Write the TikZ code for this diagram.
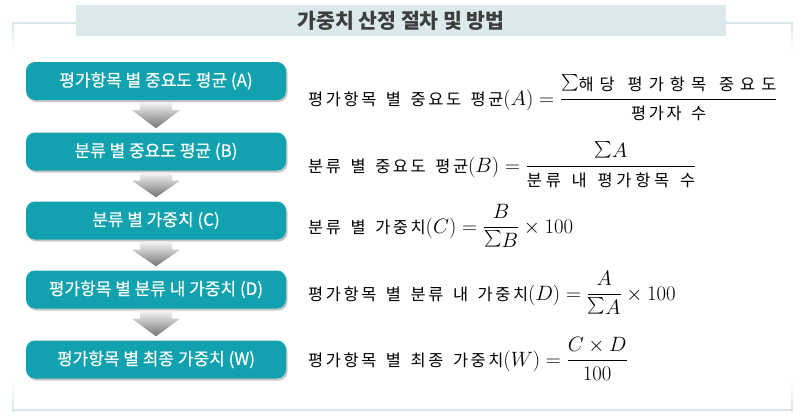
\documentclass[tikz,border=0pt]{standalone}
\usepackage{fontspec}
\usepackage{amsmath}
\usepackage{graphicx}
\usetikzlibrary{calc,shadows}
\newfontfamily\krsans{Noto Sans CJK KR}
\newfontfamily\krbox[FakeBold=0.4]{Noto Sans CJK KR}
\definecolor{tealbox}{RGB}{18,161,174}
\definecolor{frameC}{RGB}{214,231,235}
\definecolor{bannerC}{RGB}{221,234,237}
\definecolor{titleC}{RGB}{62,62,62}
\newlength\lsp \setlength\lsp{2.6pt}
\newlength\wgap \setlength\wgap{7pt}
\makeatletter
\def\kw@end{\kw@end}
\def\kw@loop#1{\ifx#1\kw@end\else\ifx#1/\hspace{\wgap}\else#1\hspace{\lsp}\fi\expandafter\kw@loop\fi}
\newcommand\kt[1]{\text{\fontsize{16.4}{19}\selectfont\krsans\kw@loop#1\kw@end\unskip}}
\makeatother
\newcommand\ssum{\mathord{\raisebox{0.2em}{\scalebox{0.8}{$\textstyle\sum$}}}}
\newcommand\flowarrow[2]{%
  \shade[top color=black!4, bottom color=black!55]
    ($(#1.south)+(-16,2)$) -- ($(#1.south)+(16,2)$) -- ($(#1.south)+(16,10)$)
    -- ($(#1.south)+(24,10)$) -- ($(#2.north)+(0,-4)$) -- ($(#1.south)+(-24,10)$)
    -- ($(#1.south)+(-16,10)$) -- cycle;}
\tikzset{
  stepbox/.style={fill=tealbox, rounded corners=9pt, minimum width=260pt,
    minimum height=38pt, inner sep=0pt, text=white,
    font=\krbox\fontsize{17}{20}\selectfont,
    drop shadow={shadow xshift=1.5pt, shadow yshift=-2pt, fill=black, opacity=0.22}},
  formula/.style={anchor=base west, inner sep=0pt, font=\fontsize{19.5}{24}\selectfont},
  frameline/.style={draw=frameC, line width=2pt},
}
\begin{document}
\begin{tikzpicture}[x=1pt, y=-1pt]
\useasboundingbox (0,0) rectangle (803,418);
% frame
\draw[frameline] (13,23) -- (76,23);
\draw[frameline] (726,23) -- (792,23);
\shade[top color=frameC, bottom color=white] (12,22) rectangle (14,50);
\shade[top color=frameC, bottom color=white] (791,22) rectangle (793,50);
\shade[top color=white, bottom color=frameC] (12,382) rectangle (14,411);
\shade[top color=white, bottom color=frameC] (791,382) rectangle (793,411);
\draw[frameline] (12,410) -- (793,410);
% title banner
\node[fill=bannerC, minimum width=650pt, minimum height=31pt, inner sep=0pt,
  text=titleC, font=\krsans\bfseries\fontsize{20.5}{23}\selectfont] (title) at (401,20.5) {가중치 산정 절차 및 방법};
% step boxes
\node[stepbox] (b1) at (156,81) {평가항목 별 중요도 평균 (A)};
\node[stepbox] (b2) at (156,151.5) {분류 별 중요도 평균 (B)};
\node[stepbox] (b3) at (156,220.5) {분류 별 가중치 (C)};
\node[stepbox] (b4) at (156,289.5) {평가항목 별 분류 내 가중치 (D)};
\node[stepbox] (b5) at (156,359.5) {평가항목 별 최종 가중치 (W)};
\flowarrow{b1}{b2}
\flowarrow{b2}{b3}
\flowarrow{b3}{b4}
\flowarrow{b4}{b5}
% formulas
\node[formula] (f1) at (308,105) {$\kt{평가항목/별/중요도/평균}(A)=\dfrac{\setlength\lsp{6pt}\ssum\kt{해당/평가항목/중요도}}{\kt{평가자/수}}$};
\node[formula] (f2) at (308,172) {$\kt{분류/별/중요도/평균}(B)=\dfrac{\ssum A}{\setlength\lsp{3.8pt}\kt{분류/내/평가항목/수}}$};
\node[formula] (f3) at (308,233) {$\kt{분류/별/가중치}(C)=\dfrac{B}{\ssum B}\times 100$};
\node[formula] (f4) at (308,300) {$\kt{평가항목/별/분류/내/가중치}(D)=\dfrac{A}{\ssum A}\times 100$};
\node[formula] (f5) at (308,366) {$\kt{평가항목/별/최종/가중치}(W)=\dfrac{C\times D}{100}$};
\end{tikzpicture}
\end{document}
